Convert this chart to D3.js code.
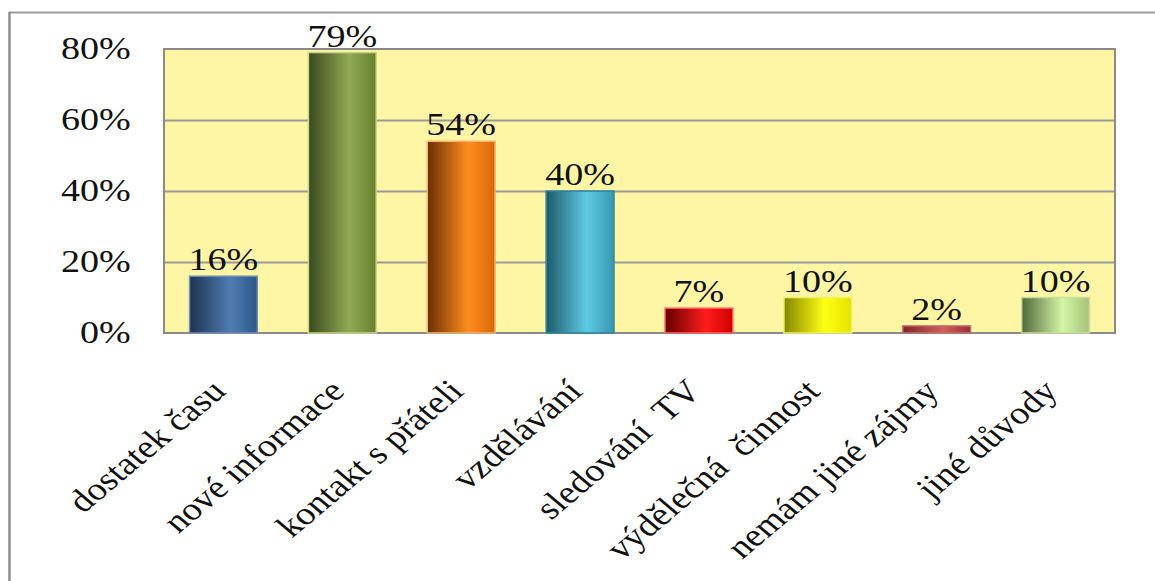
<!DOCTYPE html>
<html>
<head>
<meta charset="utf-8">
<script src="https://cdn.jsdelivr.net/npm/d3@7"></script>
<style>
  html, body { margin: 0; padding: 0; background: #fff; }
  svg { display: block; }
  text { font-family: "Liberation Serif", "Times New Roman", serif; fill: #111; }
</style>
</head>
<body>
<svg id="chart" width="1155" height="581"></svg>
<script>
// Reasons for using the internet (share of respondents)
const categories = [
  "dostatek času",
  "nové informace",
  "kontakt s přáteli",
  "vzdělávání",
  "sledování  TV",
  "výdělečná  činnost",
  "nemám jiné zájmy",
  "jiné důvody"
];
const values = [0.16, 0.79, 0.54, 0.40, 0.07, 0.10, 0.02, 0.10];
const valueLabels = ["16%", "79%", "54%", "40%", "7%", "10%", "2%", "10%"];
const tickValues = [0, 0.2, 0.4, 0.6, 0.8];
const tickLabels = ["0%", "20%", "40%", "60%", "80%"];

// Cylinder-style shading per bar: [left edge, highlight, right edge, outline]
const barShades = [
  ["#1d3250", "#4f7db2", "#2d5687", "#6f8fb5"],
  ["#394a1d", "#91aa54", "#67812d", "#c9d58a"],
  ["#6a2e02", "#ff8d20", "#d96708", "#f3b36a"],
  ["#1c5b6c", "#5fcae3", "#3898b2", "#2e8399"],
  ["#650000", "#ff1c1c", "#cf0000", "#ff6060"],
  ["#868600", "#ffff14", "#e3e300", "#f0f070"],
  ["#7e2626", "#d45e5e", "#973232", "#c07070"],
  ["#52683a", "#d4f6a6", "#a5c278", "#c8de9c"]
];

const W = 1155, H = 581;
const plot = { left: 164, right: 1115, top: 49, bottom: 333 };
const stretch = 1.19; // horizontal widening of the text glyphs

const svg = d3.select("#chart");

const x = d3.scaleBand()
  .domain(categories)
  .range([plot.left, plot.right])
  .paddingInner(0.43)
  .paddingOuter(0.215);

const y = d3.scaleLinear()
  .domain([0, 0.8])
  .range([plot.bottom, plot.top]);

// Gradients
const defs = svg.append("defs");
barShades.forEach((s, i) => {
  const g = defs.append("linearGradient")
    .attr("id", "bar" + i)
    .attr("x1", "0").attr("x2", "1").attr("y1", "0").attr("y2", "0");
  g.append("stop").attr("offset", "0").attr("stop-color", s[0]);
  g.append("stop").attr("offset", "0.6").attr("stop-color", s[1]);
  g.append("stop").attr("offset", "1").attr("stop-color", s[2]);
});

// Outer chart frame (top and left edges)
svg.append("line")
  .attr("x1", 9).attr("x2", W).attr("y1", 12.5).attr("y2", 12.5)
  .attr("stroke", "#9c9c9c").attr("stroke-width", 2);
svg.append("line")
  .attr("x1", 9.5).attr("x2", 9.5).attr("y1", 12).attr("y2", H)
  .attr("stroke", "#8e8e8e").attr("stroke-width", 2.5);

// Plot area background
svg.append("rect")
  .attr("x", plot.left).attr("y", plot.top)
  .attr("width", plot.right - plot.left)
  .attr("height", plot.bottom - plot.top)
  .attr("fill", "#fff6a5");

// Horizontal gridlines
svg.append("g")
  .attr("transform", `translate(${plot.left},0)`)
  .call(d3.axisLeft(y).tickValues(tickValues.slice(1, -1))
    .tickSize(-(plot.right - plot.left)).tickFormat(""))
  .call(g => g.select(".domain").remove())
  .call(g => g.selectAll("line").attr("stroke", "#999").attr("stroke-width", 2));

// Plot border
svg.append("rect")
  .attr("x", plot.left).attr("y", plot.top)
  .attr("width", plot.right - plot.left)
  .attr("height", plot.bottom - plot.top)
  .attr("fill", "none")
  .attr("stroke", "#8a8a8a").attr("stroke-width", 2);

// Bars
svg.append("g")
  .selectAll("rect")
  .data(values)
  .join("rect")
  .attr("x", (d, i) => x(categories[i]))
  .attr("y", d => y(d))
  .attr("width", x.bandwidth())
  .attr("height", d => y(0) - y(d))
  .attr("fill", (d, i) => `url(#bar${i})`)
  .attr("stroke", (d, i) => barShades[i][3])
  .attr("stroke-width", 1.5);

// Value labels above bars
svg.append("g")
  .selectAll("text")
  .data(values)
  .join("text")
  .attr("transform", (d, i) =>
    `translate(${x(categories[i]) + x.bandwidth() / 2},${y(d) - 6}) scale(${stretch},1)`)
  .attr("text-anchor", "middle")
  .style("font-size", "32px")
  .text((d, i) => valueLabels[i]);

// Y axis labels
svg.append("g")
  .attr("transform", `translate(${plot.left},0)`)
  .call(d3.axisLeft(y).tickValues(tickValues)
    .tickFormat((d, i) => tickLabels[i]).tickSize(0).tickPadding(28))
  .call(g => g.select(".domain").remove())
  .call(g => g.selectAll("text")
    .attr("transform", `scale(${stretch},1)`)
    .attr("dy", "0.3em")
    .style("font-size", "32px")
    .style("fill", "#111"));

// Category labels, slanted
svg.append("g")
  .selectAll("text")
  .data(categories)
  .join("text")
  .attr("transform", d =>
    `translate(${x(d) + x.bandwidth() / 2 + 4},393) scale(${stretch},1) rotate(-45)`)
  .attr("text-anchor", "end")
  .style("font-size", "32px")
  .style("white-space", "pre")
  .text(d => d);
</script>
</body>
</html>
